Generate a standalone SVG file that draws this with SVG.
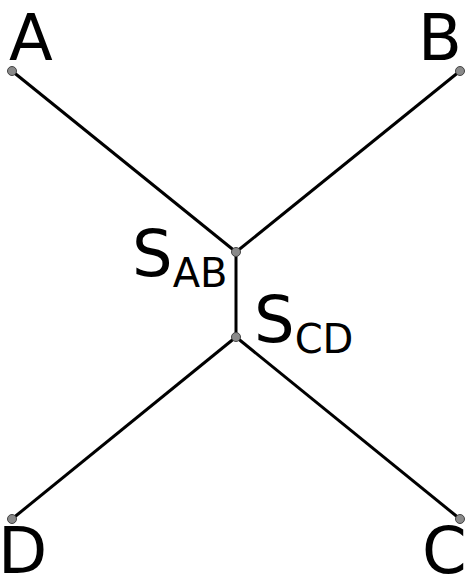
<svg xmlns="http://www.w3.org/2000/svg" width="468" height="580" viewBox="0 0 468 580">
<style>
.lbl{font-family:"DejaVu Sans",sans-serif;font-size:64px;fill:#000}
.sub{font-size:40px}
.e{stroke:#000;stroke-width:3;fill:none}
.pt{fill:#8a8a8a;stroke:#444;stroke-width:1}
</style>
<rect width="468" height="580" fill="#fff"/>
<g id="connectors">
<line class="e" x1="12" y1="71" x2="236" y2="252"/>
<line class="e" x1="460" y1="71" x2="236" y2="252"/>
<line class="e" x1="236" y1="252" x2="236" y2="337"/>
<line class="e" x1="236" y1="337" x2="12" y2="519"/>
<line class="e" x1="236" y1="337" x2="460" y2="519"/>
</g>
<g id="A"><circle class="pt" cx="12" cy="71" r="4.5"/><text class="lbl" x="9" y="60">A</text></g>
<g id="B"><circle class="pt" cx="460" cy="71" r="4.5"/><text class="lbl" x="418" y="60">B</text></g>
<g id="SAB"><circle class="pt" cx="236" cy="252" r="4.5"/><text class="lbl" x="132" y="276">S<tspan class="sub" dy="11">AB</tspan></text></g>
<g id="SCD"><circle class="pt" cx="236" cy="337" r="4.5"/><text class="lbl" x="254" y="342">S<tspan class="sub" dy="11">CD</tspan></text></g>
<g id="D"><circle class="pt" cx="12" cy="519" r="4.5"/><text class="lbl" x="-2" y="573">D</text></g>
<g id="C"><circle class="pt" cx="460" cy="519" r="4.5"/><text class="lbl" x="422" y="573">C</text></g>
</svg>
